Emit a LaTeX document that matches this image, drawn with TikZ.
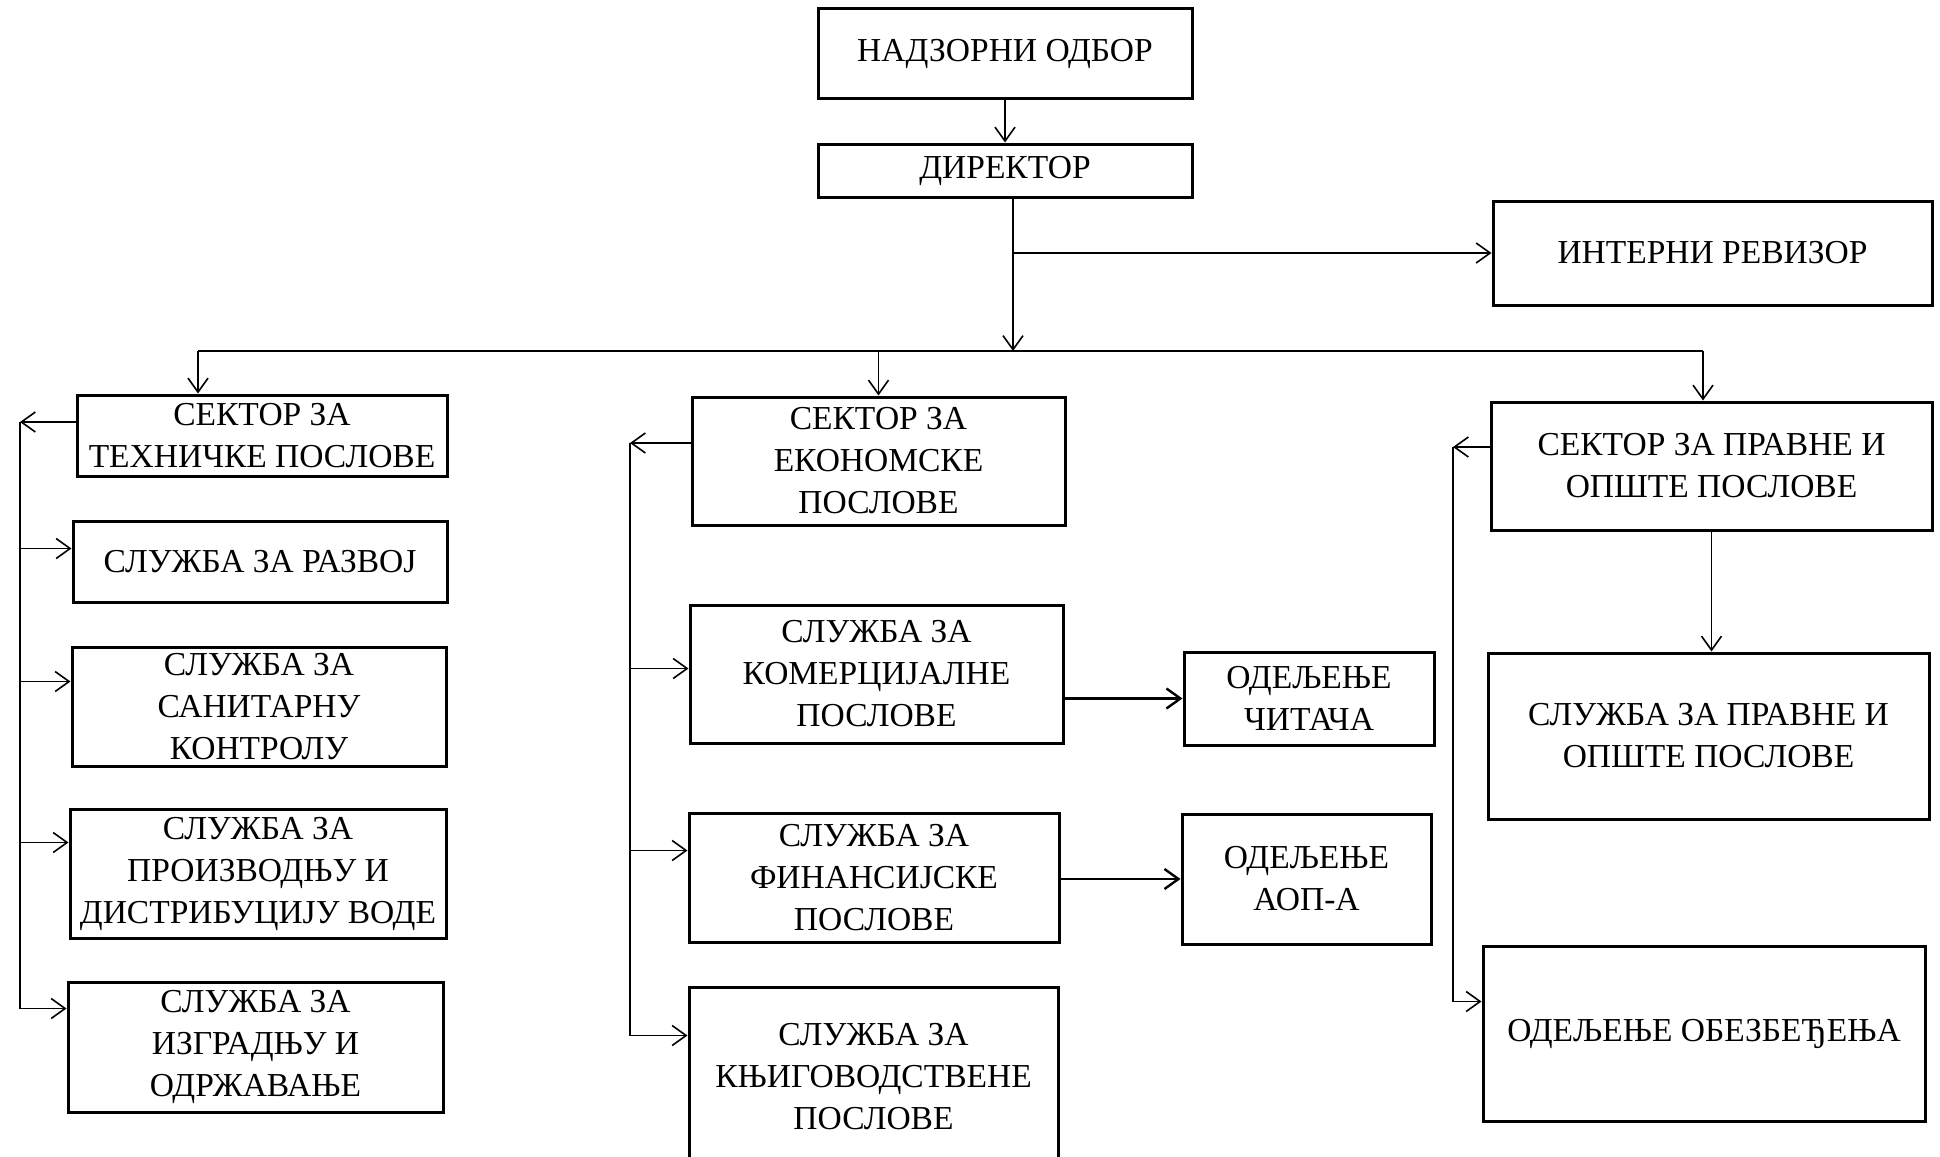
\documentclass[tikz,border=0pt]{standalone}
\usepackage{fontspec}
\setmainfont{Liberation Serif}
\usetikzlibrary{arrows.meta}

\begin{document}
\begin{tikzpicture}[x=1pt, y=-1pt,
    box/.style={draw, line width=3pt, inner sep=1pt, align=center, font=\fontsize{33.5}{42}\selectfont},
    signal/.style={-{Straight Barb[length=14pt, width=20pt]}, line width=1.6pt},
    wire/.style={line width=1.6pt}
]
\useasboundingbox (0,0) rectangle (1940,1156);

% Top of the hierarchy
\node[box, minimum width=374pt, minimum height=89pt] (odbor) at (1005,53.5) {НАДЗОРНИ ОДБОР};
\node[box, minimum width=374pt, minimum height=53pt] (direktor) at (1005,170.5) {ДИРЕКТОР};
\node[box, minimum width=439pt, minimum height=104pt] (revizor) at (1712.5,253) {ИНТЕРНИ РЕВИЗОР};

% Technical sector
\node[box, minimum width=370pt, minimum height=81pt] (tehnicki) at (262,435.5) {СЕКТОР ЗА\\ТЕХНИЧКЕ ПОСЛОВЕ};
\node[box, minimum width=374pt, minimum height=81pt] (razvoj) at (260,561.5) {СЛУЖБА ЗА РАЗВОЈ};
\node[box, minimum width=374pt, minimum height=119pt] (sanitarna) at (259,706.5) {СЛУЖБА ЗА\\САНИТАРНУ\\КОНТРОЛУ};
\node[box, minimum width=376pt, minimum height=129pt] (proizvodnja) at (258,873.5) {СЛУЖБА ЗА\\ПРОИЗВОДЊУ И\\ДИСТРИБУЦИЈУ ВОДЕ};
\node[box, minimum width=375pt, minimum height=130pt] (izgradnja) at (255.5,1047) {СЛУЖБА ЗА\\ИЗГРАДЊУ И\\ОДРЖАВАЊЕ};

% Economic sector
\node[box, minimum width=373pt, minimum height=128pt] (ekonomski) at (878.5,461) {СЕКТОР ЗА\\ЕКОНОМСКЕ\\ПОСЛОВЕ};
\node[box, minimum width=373pt, minimum height=138pt] (komercijala) at (876.5,674) {СЛУЖБА ЗА\\КОМЕРЦИЈАЛНЕ\\ПОСЛОВЕ};
\node[box, minimum width=250pt, minimum height=93pt] (citaci) at (1309,698.5) {ОДЕЉЕЊЕ\\ЧИТАЧА};
\node[box, minimum width=370pt, minimum height=129pt] (finansije) at (874,877.5) {СЛУЖБА ЗА\\ФИНАНСИЈСКЕ\\ПОСЛОВЕ};
\node[box, minimum width=249pt, minimum height=130pt] (aop) at (1306.5,879) {ОДЕЉЕЊЕ\\АОП-А};
\node[box, minimum width=369pt, minimum height=179pt] (knjigovodstvo) at (873.5,1076.5) {СЛУЖБА ЗА\\КЊИГОВОДСТВЕНЕ\\ПОСЛОВЕ};

% Legal sector
\node[box, minimum width=441pt, minimum height=128pt] (pravni) at (1711.5,466) {СЕКТОР ЗА ПРАВНЕ И\\ОПШТЕ ПОСЛОВЕ};
\node[box, minimum width=441pt, minimum height=166pt] (pravnasluzba) at (1708.5,736) {СЛУЖБА ЗА ПРАВНЕ И\\ОПШТЕ ПОСЛОВЕ};
\node[box, minimum width=442pt, minimum height=175pt] (obezbedjenje) at (1704,1033.5) {ОДЕЉЕЊЕ ОБЕЗБЕЂЕЊА};

% Director to board, auditor and sectors
\draw[signal] (odbor) -- (direktor);
\coordinate (hub) at (1013,351);
\draw[signal] (direktor.south -| hub) -- (hub);
\draw[signal] (hub |- revizor.west) -- (revizor.west);
\coordinate (busL) at (198,351);
\coordinate (busR) at (1703,351);
\draw[wire] (busL) -- (busR);
\draw[signal] (busL) -- (busL |- tehnicki.north);
\draw[signal] (hub -| ekonomski.north) -- (ekonomski.north);
\draw[signal] (busR) -- (busR |- pravni.north);

% Technical services
\coordinate (lbus) at (20,422);
\draw[signal] (tehnicki.west |- lbus) -- (lbus);
\foreach \n/\d in {razvoj/29, sanitarna/36, proizvodnja/35, izgradnja/28} {
    \coordinate (\n-in) at ([yshift=-\d pt]\n.north west);
    \draw[signal] (lbus |- \n-in) -- (\n-in);
}
\draw[wire] (lbus) -- (lbus |- izgradnja-in);

% Economic services
\coordinate (mbus) at (630,443);
\draw[signal] (ekonomski.west |- mbus) -- (mbus);
\foreach \n/\d in {komercijala/65, finansije/39, knjigovodstvo/50} {
    \coordinate (\n-in) at ([yshift=-\d pt]\n.north west);
    \draw[signal] (mbus |- \n-in) -- (\n-in);
}
\draw[wire] (mbus) -- (mbus |- knjigovodstvo-in);
\draw[signal, line width=2.4pt] (komercijala.east |- citaci.west) -- (citaci.west);
\draw[signal, line width=2.4pt] (finansije.east |- aop.west) -- (aop.west);

% Legal services
\coordinate (rbus) at (1453,447);
\draw[signal] (pravni.west |- rbus) -- (rbus);
\coordinate (obezbedjenje-in) at ([yshift=-57pt]obezbedjenje.north west);
\draw[signal] (rbus |- obezbedjenje-in) -- (obezbedjenje-in);
\draw[wire] (rbus) -- (rbus |- obezbedjenje-in);
\draw[signal] (pravni.south) -- (pravni.south |- pravnasluzba.north);

\end{tikzpicture}
\end{document}
